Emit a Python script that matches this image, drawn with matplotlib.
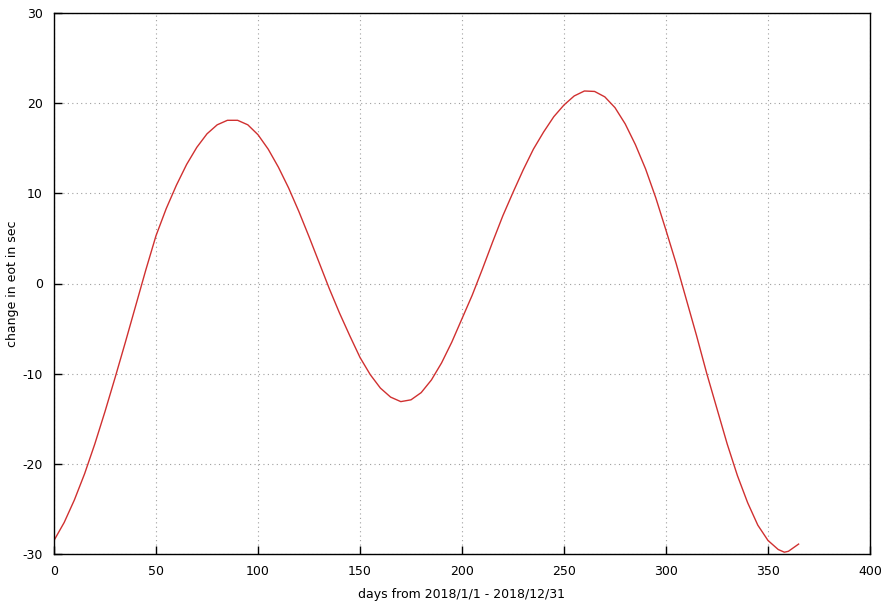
import matplotlib
matplotlib.use("Agg")
import matplotlib.pyplot as plt

plt.rcParams['axes.unicode_minus'] = False

# change in equation of time (sec)
days = [0, 5, 10, 15, 20, 25, 30, 35, 40, 45, 50, 55, 60, 65, 70, 75, 80, 85,
        90, 95, 100, 105, 110, 115, 120, 125, 130, 135, 140, 145, 150, 155,
        160, 165, 170, 175, 180, 185, 190, 195, 200, 205, 210, 215, 220, 225,
        230, 235, 240, 245, 250, 255, 260, 265, 270, 275, 280, 285, 290, 295,
        300, 305, 310, 315, 320, 325, 330, 335, 340, 345, 350, 355, 358, 360,
        365]
eot = [-28.5, -26.5, -24.0, -21.1, -17.8, -14.2, -10.4, -6.5, -2.5, 1.5, 5.3,
       8.3, 10.9, 13.2, 15.1, 16.6, 17.6, 18.1, 18.1, 17.6, 16.5, 14.9, 12.9,
       10.6, 8.0, 5.2, 2.3, -0.6, -3.3, -5.8, -8.2, -10.1, -11.6, -12.6, -13.1,
       -12.9, -12.1, -10.7, -8.8, -6.5, -3.9, -1.3, 1.6, 4.6, 7.5, 10.1, 12.6,
       14.9, 16.8, 18.5, 19.8, 20.8, 21.35, 21.3, 20.7, 19.5, 17.7, 15.4, 12.7,
       9.5, 5.9, 2.2, -1.8, -5.8, -10.0, -13.9, -17.8, -21.3, -24.3, -26.8,
       -28.5, -29.5, -29.8, -29.7, -28.9]

xticks = [0, 50, 100, 150, 200, 250, 300, 350, 400]
yticks = [-30, -20, -10, 0, 10, 20, 30]

fig = plt.figure(figsize=(8.92, 6.02), dpi=100)
ax = fig.add_axes([54/892, 48/602, 816/892, 541/602])

ax.plot(days, eot, color='#d03030', linewidth=1.0)

ax.set_xlim(0, 400)
ax.set_ylim(-30, 30)
ax.set_xticks(xticks)
ax.set_yticks(yticks)

# gnuplot-like dotted grid
ax.grid(True, color='#a0a0a0', linestyle=(0, (1, 3)), linewidth=0.8)
ax.tick_params(direction='in', length=6, width=1, labelsize=9, pad=8)
for s in ax.spines.values():
    s.set_linewidth(1)

ax.set_xlabel('days from 2018/1/1 - 2018/12/31', fontsize=9)
ax.set_ylabel('change in eot in sec', fontsize=9)
ax.xaxis.label.set_va('center')
ax.yaxis.label.set_va('center')
ax.xaxis.set_label_coords(0.5, -0.074)
ax.yaxis.set_label_coords(-0.051, 0.5)

fig.savefig('out.png', dpi=100)
